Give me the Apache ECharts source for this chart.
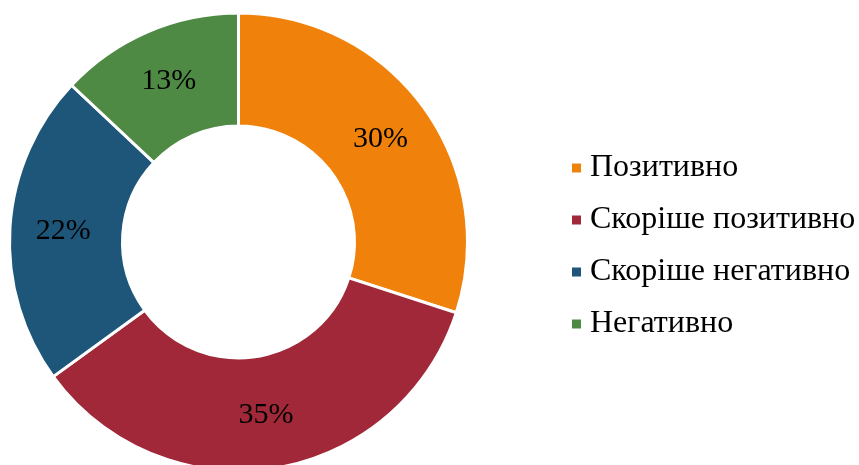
<!DOCTYPE html>
<html>
<head>
<meta charset="utf-8">
<script src="https://cdn.jsdelivr.net/npm/echarts@6/dist/echarts.min.js"></script>
<style>
  html, body { margin: 0; padding: 0; background: #fff; }
  #chart { width: 859px; height: 465px; }
</style>
</head>
<body>
<div id="chart"></div>
<script>
const categories = ['Позитивно', 'Скоріше позитивно', 'Скоріше негативно', 'Негативно'];
const values = [30, 35, 22, 13];
const colors = ['#F0820B', '#A02838', '#1E5679', '#4F8A44'];

const chart = echarts.init(document.getElementById('chart'));

const option = {
  animation: false,
  color: colors,
  legend: {
    orient: 'vertical',
    left: 565,
    top: 147,
    itemWidth: 11,
    itemHeight: 11,
    itemGap: 20,
    icon: 'rect',
    textStyle: {
      fontFamily: 'Liberation Serif',
      fontSize: 32,
      lineHeight: 32,
      color: '#000',
      padding: [0, 0, 0, 3],
    },
    data: categories,
  },
  series: [
    {
      type: 'pie',
      center: [238.5, 242],
      radius: [116, 229],
      startAngle: 90,
      clockwise: true,
      itemStyle: {
        borderColor: '#fff',
        borderWidth: 3,
      },
      label: {
        show: true,
        position: 'inside',
        formatter: '{c}%',
        fontFamily: 'Liberation Serif',
        fontSize: 30,
        color: '#000',
      },
      labelLine: { show: false },
      emphasis: { disabled: true },
      data: categories.map((name, i) => ({ name, value: values[i] })),
    },
  ],
};

chart.setOption(option);
</script>
</body>
</html>
